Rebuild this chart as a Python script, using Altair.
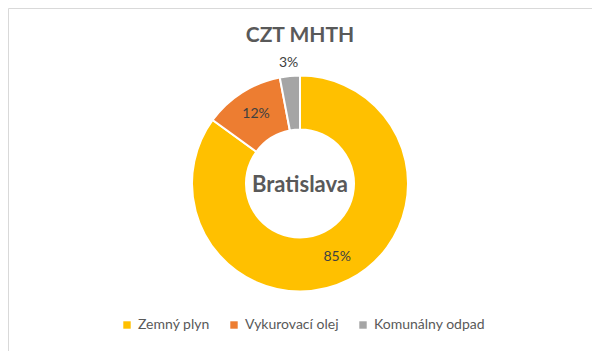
import altair as alt
import pandas as pd

categories = ["Zemný plyn", "Vykurovací olej", "Komunálny odpad"]
shares = [85, 12, 3]
labels = ["85%", "12%", "3%"]
colors = ["#FFC000", "#ED7D31", "#A5A5A5"]
title_text = "CZT MHTH"
center_text = "Bratislava"

FONT = "Lato"
df = pd.DataFrame({
    "cat": categories,
    "share": shares,
    "label": labels,
    "idx": list(range(len(categories))),
})

CX, CY = 292, 175.5

base = alt.Chart(df).encode(
    theta=alt.Theta("share:Q", stack=True),
    order=alt.Order("idx:Q"),
)

arc = base.mark_arc(outerRadius=108, innerRadius=54, stroke="white", strokeWidth=2).encode(
    color=alt.Color(
        "cat:N",
        scale=alt.Scale(domain=categories, range=colors),
        sort=categories,
        legend=alt.Legend(
            orient="none", legendX=112, legendY=310, direction="horizontal",
            title=None, symbolType="square", symbolSize=55, symbolStrokeWidth=0,
            labelFontSize=14, labelColor="#595959", labelFont=FONT,
            columnPadding=17, symbolOffset=0,
        ),
    ),
    x=alt.value(CX),
    y=alt.value(CY),
)

inner_labels = base.mark_text(radius=82, fontSize=14, font=FONT, color="#404040").encode(
    text=alt.condition(alt.datum.idx < 2, alt.Text("label:N"), alt.value("")),
    x=alt.value(CX),
    y=alt.value(CY),
)

outer_labels = base.mark_text(radius=121, fontSize=14, font=FONT, color="#404040").encode(
    text=alt.condition(alt.datum.idx >= 2, alt.Text("label:N"), alt.value("")),
    x=alt.value(CX),
    y=alt.value(CY),
)

center = alt.Chart(pd.DataFrame({"t": [center_text]})).mark_text(
    fontSize=22, fontWeight="bold", font=FONT, color="#595959", baseline="middle"
).encode(text="t:N", x=alt.value(CX), y=alt.value(CY + 1))

title = alt.Chart(pd.DataFrame({"t": [title_text]})).mark_text(
    fontSize=21, fontWeight="bold", font=FONT, color="#595959", baseline="middle"
).encode(text="t:N", x=alt.value(CX), y=alt.value(28))

chart = alt.layer(arc, inner_labels, outer_labels, center, title).properties(
    width=584, height=343, autosize="none", padding=0, background="white"
).configure_view(stroke="#D9D9D9", strokeWidth=1)

chart.save("out.html", embed_options={"renderer": "svg", "actions": False})
